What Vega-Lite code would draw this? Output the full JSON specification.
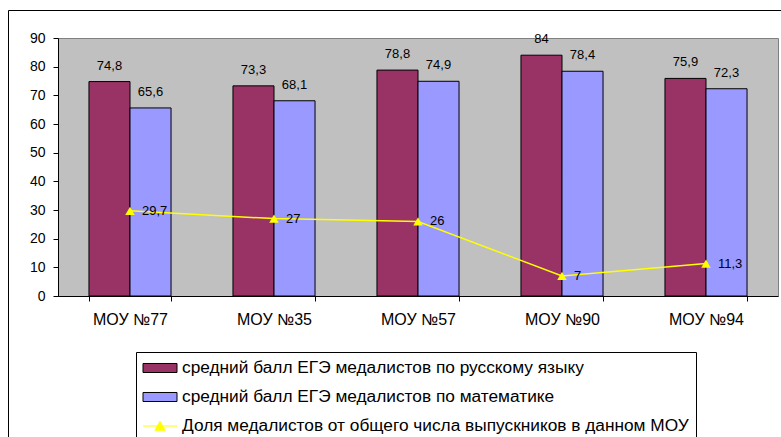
{
  "$schema": "https://vega.github.io/schema/vega-lite/v6.json",
  "width": 720,
  "height": 258,
  "autosize": {"type": "none"},
  "padding": {"left": 58, "top": 38, "right": 3, "bottom": 141},
  "background": "white",
  "config": {
    "font": "Liberation Sans",
    "locale": {"number": {"decimal": ",", "thousands": " ", "grouping": [3], "currency": ["", ""]}},
    "view": {"fill": "#C0C0C0", "stroke": "#808080", "strokeWidth": 1},
    "axis": {"labelColor": "black", "domainColor": "black", "tickColor": "black", "grid": false, "labelFont": "Liberation Sans", "domainWidth": 1, "tickWidth": 1}
  },
  "datasets": {
    "bars": [
      {"school": "МОУ №77", "series": "средний балл ЕГЭ медалистов по русскому языку", "value": 74.8},
      {"school": "МОУ №77", "series": "средний балл ЕГЭ медалистов по математике", "value": 65.6},
      {"school": "МОУ №35", "series": "средний балл ЕГЭ медалистов по русскому языку", "value": 73.3},
      {"school": "МОУ №35", "series": "средний балл ЕГЭ медалистов по математике", "value": 68.1},
      {"school": "МОУ №57", "series": "средний балл ЕГЭ медалистов по русскому языку", "value": 78.8},
      {"school": "МОУ №57", "series": "средний балл ЕГЭ медалистов по математике", "value": 74.9},
      {"school": "МОУ №90", "series": "средний балл ЕГЭ медалистов по русскому языку", "value": 84},
      {"school": "МОУ №90", "series": "средний балл ЕГЭ медалистов по математике", "value": 78.4},
      {"school": "МОУ №94", "series": "средний балл ЕГЭ медалистов по русскому языку", "value": 75.9},
      {"school": "МОУ №94", "series": "средний балл ЕГЭ медалистов по математике", "value": 72.3}
    ],
    "share": [
      {"school": "МОУ №77", "series": "Доля медалистов от общего числа выпускников в данном МОУ", "value": 29.7},
      {"school": "МОУ №35", "series": "Доля медалистов от общего числа выпускников в данном МОУ", "value": 27},
      {"school": "МОУ №57", "series": "Доля медалистов от общего числа выпускников в данном МОУ", "value": 26},
      {"school": "МОУ №90", "series": "Доля медалистов от общего числа выпускников в данном МОУ", "value": 7},
      {"school": "МОУ №94", "series": "Доля медалистов от общего числа выпускников в данном МОУ", "value": 11.3}
    ]
  },
  "encoding": {
    "x": {
      "field": "school", "type": "nominal", "title": null,
      "scale": {"domain": ["МОУ №77", "МОУ №35", "МОУ №57", "МОУ №90", "МОУ №94"], "paddingInner": 0.43, "paddingOuter": 0.215},
      "axis": {"tickBand": "extent", "tickSize": 5, "labelFontSize": 16, "labelPadding": 10, "labelAngle": 0}
    },
    "y": {
      "field": "value", "type": "quantitative", "title": null,
      "scale": {"domain": [0, 90], "nice": false},
      "axis": {"values": [0, 10, 20, 30, 40, 50, 60, 70, 80, 90], "tickSize": 5, "labelFontSize": 14, "labelPadding": 8}
    }
  },
  "layer": [
    {
      "data": {"name": "bars"},
      "mark": {"type": "bar", "stroke": "black", "strokeWidth": 1},
      "encoding": {
        "xOffset": {"field": "series", "type": "nominal", "sort": ["средний балл ЕГЭ медалистов по русскому языку", "средний балл ЕГЭ медалистов по математике"]},
        "color": {
          "field": "series", "type": "nominal",
          "scale": {"domain": ["средний балл ЕГЭ медалистов по русскому языку", "средний балл ЕГЭ медалистов по математике", "Доля медалистов от общего числа выпускников в данном МОУ"], "range": ["#993366", "#9999FF", "#FFFF00"]},
          "legend": {
            "orient": "none", "legendX": 78, "legendY": 314, "title": null,
            "strokeColor": "black", "fillColor": "white", "padding": 7,
            "symbolSize": 289, "rowPadding": 11, "labelFontSize": 17.3, "labelColor": "black",
            "labelLimit": 700, "labelOffset": 13, "symbolStrokeWidth": 1, "symbolOffset": 8,
            "symbolType": {"expr": "indexof(datum.value, 'Доля') === 0 ? 'M-2,0H2M-0.6,0.5L0,-0.55L0.6,0.5Z' : 'M-2,-0.53H2V0.53H-2Z'"},
            "symbolStrokeColor": {"expr": "indexof(datum.value, 'Доля') === 0 ? '#FFFF00' : 'black'"}
          }
        }
      }
    },
    {
      "data": {"name": "bars"},
      "mark": {"type": "text", "baseline": "alphabetic", "dy": -12, "fontSize": 13, "color": "black"},
      "encoding": {
        "xOffset": {"field": "series", "type": "nominal", "sort": ["средний балл ЕГЭ медалистов по русскому языку", "средний балл ЕГЭ медалистов по математике"]},
        "text": {"field": "value", "type": "quantitative", "format": "~r"}
      }
    },
    {
      "data": {"name": "share"},
      "mark": {"type": "line", "strokeWidth": 1.5, "color": "#FFFF00"},
      "encoding": {}
    },
    {
      "data": {"name": "share"},
      "mark": {"type": "point", "shape": "triangle-up", "filled": true, "size": 90, "opacity": 1},
      "encoding": {
        "color": {"field": "series", "type": "nominal"}
      }
    },
    {
      "data": {"name": "share"},
      "mark": {"type": "text", "align": "left", "baseline": "middle", "dx": 12, "fontSize": 13, "color": "black"},
      "encoding": {
        "text": {"field": "value", "type": "quantitative", "format": "~r"},
        "opacity": {
          "field": "school", "type": "ordinal",
          "scale": {"range": [1, 1, 1, 1, 1]},
          "legend": {
            "orient": "none", "legendX": -50, "legendY": -28, "padding": 600,
            "strokeColor": "black", "fillColor": null, "title": null,
            "symbolOpacity": 0, "labelOpacity": 0, "symbolSize": 0, "direction": "horizontal",
            "labelExpr": "''",
            "encode": {"symbols": {"opacity": {"value": 0}, "fillOpacity": {"value": 0}, "strokeOpacity": {"value": 0}}}
          }
        }
      }
    }
  ]
}
